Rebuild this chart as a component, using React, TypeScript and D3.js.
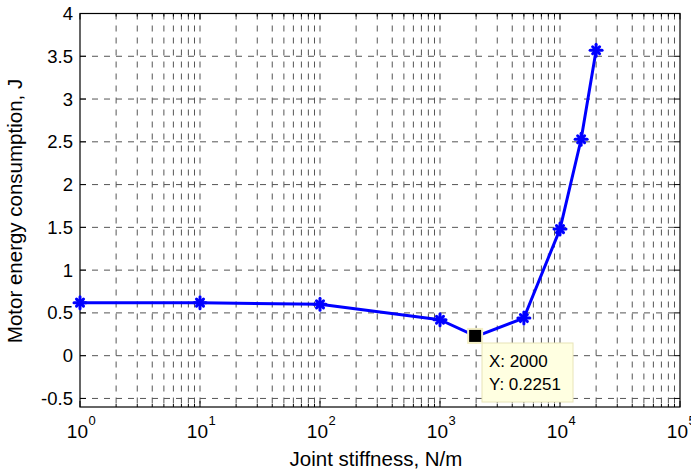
import React from "react";
import * as d3 from "d3";

const stiffness = [1, 10, 100, 1000, 2000, 5000, 10000, 15000, 20000];
const energy = [0.62, 0.62, 0.6, 0.42, 0.2251, 0.44, 1.48, 2.53, 3.57];
const yTicks = [-0.5, 0, 0.5, 1, 1.5, 2, 2.5, 3, 3.5, 4];
const xDecades = [0, 1, 2, 3, 4, 5];
const tipX = 2000;
const tipY = 0.2251;
const xLabel = "Joint stiffness, N/m";
const yLabel = "Motor energy consumption, J";

export default function App() {
  const W = 691, H = 471;
  const L = 80, R = 680, T = 13.5, B = 407;
  const x = d3.scaleLog().domain([1, 1e5]).range([L, R]);
  const y = d3.scaleLinear().domain([-0.6, 4]).range([B, T]);
  const minor: number[] = [];
  for (let d = 0; d < 5; d++) for (let k = 2; k <= 9; k++) minor.push(k * Math.pow(10, d));
  const line = d3.line<number>().x((_, i) => x(stiffness[i])).y((v) => y(v));
  const font = "'Liberation Sans', Arial, Helvetica, sans-serif";
  const gridStyle = { stroke: "#555", strokeWidth: 1, strokeDasharray: "6,6" };
  const tx = x(tipX), ty = y(tipY);
  return (
    <svg width={W} height={H} style={{ position: "absolute", left: 0, top: 0, background: "#fff" }} fontFamily={font}>
      <rect x={0} y={0} width={W} height={H} fill="#fff" />
      {/* grid */}
      {yTicks.map((t) => (
        <line key={"gy" + t} x1={L} x2={R} y1={y(t)} y2={y(t)} {...gridStyle} />
      ))}
      {xDecades.slice(1, -1).map((d) => (
        <line key={"gx" + d} x1={x(Math.pow(10, d))} x2={x(Math.pow(10, d))} y1={T} y2={B} {...gridStyle} />
      ))}
      {minor.map((m) => (
        <line key={"gm" + m} x1={x(m)} x2={x(m)} y1={T} y2={B} {...gridStyle} />
      ))}
      {/* ticks */}
      {yTicks.map((t) => (
        <g key={"ty" + t}>
          <line x1={L} x2={L + 6} y1={y(t)} y2={y(t)} stroke="#000" />
          <line x1={R} x2={R - 6} y1={y(t)} y2={y(t)} stroke="#000" />
          <text x={L - 7} y={y(t) + 6.5} fontSize={18.5} textAnchor="end">{t}</text>
        </g>
      ))}
      {xDecades.map((d) => (
        <g key={"tx" + d}>
          <line x1={x(Math.pow(10, d))} x2={x(Math.pow(10, d))} y1={B} y2={B - 6} stroke="#000" />
          <line x1={x(Math.pow(10, d))} x2={x(Math.pow(10, d))} y1={T} y2={T + 6} stroke="#000" />
          <text x={x(Math.pow(10, d)) + 8} y={438} fontSize={19} textAnchor="end">10</text>
          <text x={x(Math.pow(10, d)) + 8.5} y={425} fontSize={13}>{d}</text>
        </g>
      ))}
      {minor.map((m) => (
        <g key={"tm" + m}>
          <line x1={x(m)} x2={x(m)} y1={B} y2={B - 3} stroke="#000" />
          <line x1={x(m)} x2={x(m)} y1={T} y2={T + 3} stroke="#000" />
        </g>
      ))}
      <rect x={L} y={T} width={R - L} height={B - T} fill="none" stroke="#000" strokeWidth={1.2} />
      {/* line */}
      <path d={line(energy) || ""} fill="none" stroke="#0000ff" strokeWidth={3} strokeLinejoin="round" />
      {energy.map((v, i) => {
        const cx = x(stiffness[i]), cy = y(v);
        if (stiffness[i] === tipX) return null;
        return (
          <g key={"m" + i} stroke="#0000ff" strokeWidth={3} strokeLinecap="round">
            <line x1={cx - 6} x2={cx + 6} y1={cy} y2={cy} />
            <line x1={cx} x2={cx} y1={cy - 6} y2={cy + 6} />
            <line x1={cx - 3.5} x2={cx + 3.5} y1={cy - 3.5} y2={cy + 3.5} />
            <line x1={cx - 3.5} x2={cx + 3.5} y1={cy + 3.5} y2={cy - 3.5} />
          </g>
        );
      })}
      {/* data tip */}
      <rect x={tx - 8} y={ty - 7.5} width={14} height={14} fill="#000" stroke="#f3efc6" strokeWidth={2} />
      <rect x={482} y={343} width={91} height={59} fill="#ffffe1" stroke="#e8e4b8" strokeWidth={1} />
      <text x={489} y={367} fontSize={17}>{"X: " + tipX}</text>
      <text x={489} y={390} fontSize={17}>{"Y: " + tipY}</text>
      {/* labels */}
      <text x={376} y={466} fontSize={20.5} textAnchor="middle">{xLabel}</text>
      <text transform={`translate(22,211) rotate(-90)`} fontSize={20.5} textAnchor="middle">{yLabel}</text>
    </svg>
  );
}
